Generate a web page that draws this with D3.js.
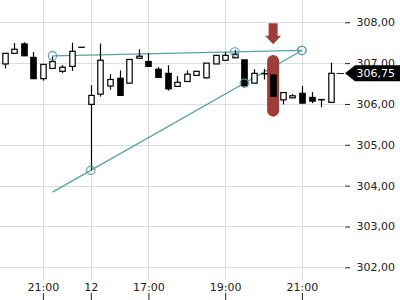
<!DOCTYPE html>
<html>
<head>
<meta charset="utf-8">
<script src="https://cdn.jsdelivr.net/npm/d3@7"></script>
<style>
  html, body { margin: 0; padding: 0; background: #fff; }
  svg { display: block; font-family: "DejaVu Sans", sans-serif; }
</style>
</head>
<body>
<script>
'use strict';

// 15 minute candles, one entry per bar
const candleOpen  = [306.98, 307.24, 307.47, 307.14, 306.62, 306.87, 306.80, 306.92, 307.39, 305.99,
                     306.24, 306.44, 306.63, 306.51, 307.12, 307.04, 306.85, 306.75, 306.43, 306.55,
                     306.70, 306.64, 306.98, 307.07, 307.13, 307.08, 306.51, 306.74, 306.71, 306.10,
                     306.15, 306.26, 306.16, 306.11, 306.04];
const candleHigh  = [307.24, 307.49, 307.51, 307.27, 306.97, 307.16, 306.95, 307.50, 307.39, 306.46,
                     307.48, 306.73, 306.82, 307.09, 307.34, 307.24, 306.90, 306.95, 306.68, 306.82,
                     306.81, 307.00, 307.19, 307.27, 307.32, 307.08, 306.85, 306.86, 306.71, 306.28,
                     306.24, 306.44, 306.29, 306.11, 307.01];
const candleLow   = [306.87, 307.24, 307.18, 306.62, 306.57, 306.87, 306.76, 306.81, 307.39, 304.38,
                     306.18, 306.35, 306.21, 306.51, 307.12, 306.92, 306.65, 306.33, 306.43, 306.55,
                     306.70, 306.62, 306.98, 307.07, 307.13, 306.44, 306.51, 306.60, 306.19, 305.99,
                     306.15, 306.02, 306.02, 305.92, 306.04];
const candleClose = [307.24, 307.34, 307.18, 306.62, 306.97, 307.04, 306.90, 307.29, 307.39, 306.21,
                     307.07, 306.60, 306.21, 307.09, 307.17, 306.92, 306.65, 306.37, 306.53, 306.73,
                     306.80, 307.00, 307.19, 307.19, 307.22, 306.44, 306.75, 306.74, 306.19, 306.28,
                     306.20, 306.02, 306.07, 306.10, 306.75];

const timeTickIndex = [4, 9, 15, 23, 31];
const timeTickLabel = ['21:00', '12', '17:00', '19:00', '21:00'];
const priceTicks = [302, 303, 304, 305, 306, 307, 308];

// drawn trend lines: [bar index, price] anchors and the bars that carry a handle
const trendUpper = [[5, 307.18], [31, 307.31]];
const trendLower = [[5, 303.84], [31, 307.31]];
const upperHandles = [5, 24, 31];
const lowerHandles = [9, 25, 31];

// highlighted bar
const markIndex = 28;
const markRange = [307.20, 305.69];

const width = 400;
const height = 300;
const plotRight = 344;
const teal = '#5a9fa7';
const red = '#9e3c37';

const fmt = d3.formatLocale({decimal: ',', thousands: '.', grouping: [3], currency: ['', '']}).format('.2f');

const candles = candleOpen.map(function(o, i) {
  return {i: i, o: o, h: candleHigh[i], l: candleLow[i], c: candleClose[i]};
});

const x = d3.scaleLinear().domain([0, candles.length - 1]).range([4.5, 330.7]);
const y = d3.scaleLinear().domain([302, 308]).range([267.3, 22.3]);

const svg = d3.select('body').append('svg')
  .attr('width', width)
  .attr('height', height);

// grid
svg.append('g').selectAll('line')
  .data(priceTicks)
  .enter().append('line')
  .attr('x1', 0).attr('x2', plotRight)
  .attr('y1', function(d) { return Math.round(y(d)) + 0.5; })
  .attr('y2', function(d) { return Math.round(y(d)) + 0.5; })
  .attr('stroke', '#dcdcdc');

svg.append('g').selectAll('line')
  .data(timeTickIndex)
  .enter().append('line')
  .attr('x1', function(d) { return Math.round(x(d)) + 0.5; })
  .attr('x2', function(d) { return Math.round(x(d)) + 0.5; })
  .attr('y1', 0).attr('y2', 280)
  .attr('stroke', '#dcdcdc');

// trend lines
function lineAt(pts, idx) {
  const t = (idx - pts[0][0]) / (pts[1][0] - pts[0][0]);
  return pts[0][1] + t * (pts[1][1] - pts[0][1]);
}

[trendUpper, trendLower].forEach(function(pts) {
  svg.append('line')
    .attr('x1', x(pts[0][0])).attr('y1', y(pts[0][1]))
    .attr('x2', x(pts[1][0])).attr('y2', y(pts[1][1]))
    .attr('stroke', teal)
    .attr('stroke-width', 1.3);
});

// highlight behind the marked bar
const markW = 12;
svg.append('rect')
  .attr('x', x(markIndex) - markW / 2)
  .attr('y', y(markRange[0]))
  .attr('width', markW)
  .attr('height', y(markRange[1]) - y(markRange[0]))
  .attr('rx', markW / 2)
  .attr('fill', red);

// candles
const bodyW = 5.4;
const bar = svg.append('g').selectAll('g')
  .data(candles)
  .enter().append('g');

bar.append('line')
  .attr('x1', function(d) { return Math.round(x(d.i)) + 0.5; })
  .attr('x2', function(d) { return Math.round(x(d.i)) + 0.5; })
  .attr('y1', function(d) { return y(d.h); })
  .attr('y2', function(d) { return y(d.l); })
  .attr('stroke', '#000')
  .attr('stroke-width', 1.2);

bar.append('rect')
  .attr('x', function(d) { return Math.round(x(d.i)) + 0.5 - bodyW / 2; })
  .attr('y', function(d) { return y(Math.max(d.o, d.c)); })
  .attr('width', bodyW)
  .attr('height', function(d) { return Math.max(0.1, Math.abs(y(d.o) - y(d.c))); })
  .attr('fill', function(d) { return d.c > d.o ? '#fff' : '#000'; })
  .attr('stroke', '#000')
  .attr('stroke-width', 1.2);

// handles on the trend lines
function handles(pts, idxs) {
  svg.append('g').selectAll('circle')
    .data(idxs)
    .enter().append('circle')
    .attr('cx', function(d) { return x(d); })
    .attr('cy', function(d) { return y(lineAt(pts, d)); })
    .attr('r', 4.2)
    .attr('fill', 'none')
    .attr('stroke', teal)
    .attr('stroke-width', 1.1);
}
handles(trendUpper, upperHandles);
handles(trendLower, lowerHandles);

// arrow above the marked bar
const ax = x(markIndex);
const tipY = y(markRange[0]) - 10.7;
svg.append('path')
  .attr('d', 'M' + (ax - 4.5) + ',' + (tipY - 21) +
    'H' + (ax + 4.5) + 'V' + (tipY - 8.6) +
    'H' + (ax + 8) + 'L' + ax + ',' + tipY +
    'L' + (ax - 8) + ',' + (tipY - 8.6) +
    'H' + (ax - 4.5) + 'Z')
  .attr('fill', red);

// price axis
const yAxis = svg.append('g')
  .attr('transform', 'translate(' + 345 + ',0)')
  .call(d3.axisRight(y).tickValues(priceTicks).tickFormat(fmt).tickSize(5).tickPadding(6.5));
yAxis.select('.domain').remove();
yAxis.selectAll('line').attr('stroke', '#222');
yAxis.selectAll('text')
  .attr('fill', '#222')
  .style('font-size', '11px')
  .style('font-family', '"DejaVu Sans", sans-serif');

// time axis
const xAxis = svg.append('g')
  .attr('transform', 'translate(0,' + 293 + ')')
  .call(d3.axisBottom(x).tickValues(timeTickIndex)
    .tickFormat(function(d, k) { return timeTickLabel[k]; })
    .tickSize(7));
xAxis.select('.domain').remove();
xAxis.selectAll('line').attr('stroke', '#222');
xAxis.selectAll('text')
  .attr('y', -2)
  .attr('dy', 0)
  .attr('fill', '#222')
  .style('font-size', '11px')
  .style('font-family', '"DejaVu Sans", sans-serif');

// last price tag
const last = candles[candles.length - 1].c;
const ly = y(last);
svg.append('line')
  .attr('x1', x(candles.length - 1) + 6).attr('x2', 344)
  .attr('y1', Math.round(ly) + 0.5).attr('y2', Math.round(ly) + 0.5)
  .attr('stroke', '#222');
svg.append('path')
  .attr('d', 'M345,' + ly + 'L355,' + (ly - 8) + 'H400V' + (ly + 8) + 'H355Z')
  .attr('fill', '#000');
svg.append('text')
  .attr('x', 356.5)
  .attr('y', ly)
  .attr('dy', '0.35em')
  .attr('fill', '#fff')
  .style('font-size', '11px')
  .text(fmt(last));
</script>
</body>
</html>
